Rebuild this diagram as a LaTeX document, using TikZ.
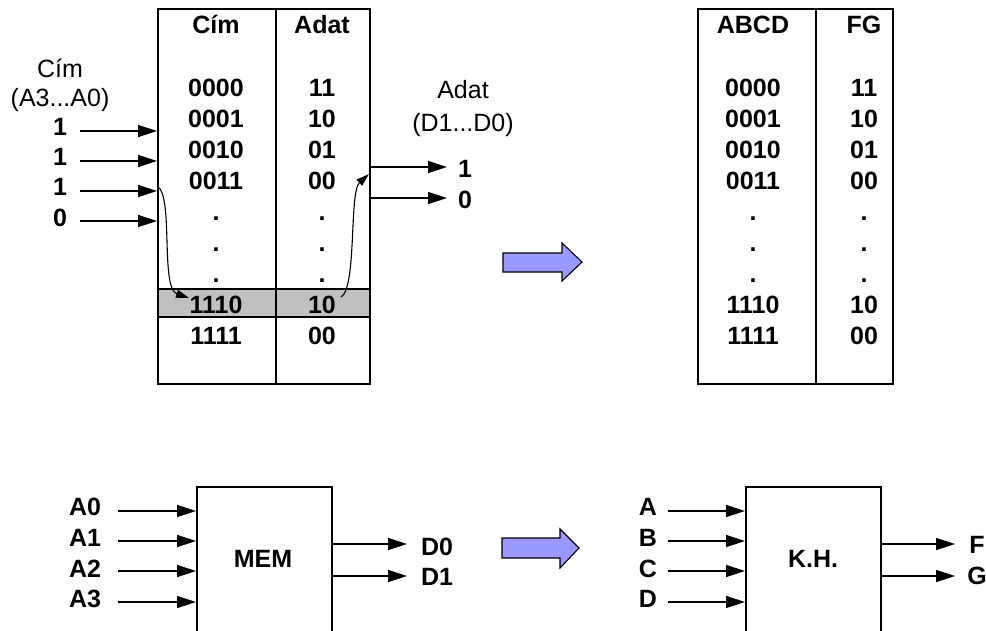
\documentclass[tikz,border=0pt]{standalone}
\usepackage{fontspec}
\setmainfont{Liberation Sans}
\usetikzlibrary{arrows.meta}
\definecolor{rowgray}{HTML}{C0C0C0}
\definecolor{blockblue}{HTML}{9999FF}
\begin{document}
\begin{tikzpicture}[x=1pt,y=-1pt,
  txt/.style={anchor=base, inner sep=0pt, font=\fontsize{25}{30}\selectfont\bfseries},
  rtxt/.style={anchor=base, inner sep=0pt, font=\fontsize{25}{30}\selectfont},
  arr/.style={-{Triangle[length=19pt,width=12pt]}, line width=1.4pt},
  carr/.style={-{Triangle[length=13pt,width=8pt]}, line width=1.1pt},
  col/.style={draw, line width=1.5pt, inner sep=0pt, anchor=north west},
  blockarr/.style={fill=blockblue, draw=black, line width=1.1pt, line join=miter}]
\useasboundingbox (0,0) rectangle (986,630);
\clip (0,0) rectangle (986,630);

% ---------- left table ----------
\fill[rowgray] (157,289) rectangle (369,317);
\node[col, minimum width=118pt, minimum height=375pt] (c1) at (157,8) {};
\node[col, minimum width=94pt, minimum height=375pt] (c2) at (275,8) {};
\draw[line width=1.5pt] (157,289) -- (369,289);
\draw[line width=1.5pt] (157,317) -- (369,317);

\node[txt] (h1) at (216,33) {Cím};
\node[txt] (h2) at (322,33) {Adat};
\node[txt] (a0) at (216,96) {0000};
\node[txt] (a1) at (216,127) {0001};
\node[txt] (a2) at (216,158) {0010};
\node[txt] (a3) at (216,189) {0011};
\node[txt] (ad1) at (216,220) {.};
\node[txt] (ad2) at (216,251) {.};
\node[txt] (ad3) at (216,282) {.};
\node[txt] (a14) at (216,313) {1110};
\node[txt] (a15) at (216,344) {1111};
\node[txt] (v0) at (322,96) {11};
\node[txt] (v1) at (322,127) {10};
\node[txt] (v2) at (322,158) {01};
\node[txt] (v3) at (322,189) {00};
\node[txt] (vd1) at (322,220) {.};
\node[txt] (vd2) at (322,251) {.};
\node[txt] (vd3) at (322,282) {.};
\node[txt] (v14) at (322,313) {10};
\node[txt] (v15) at (322,344) {00};

% address inputs
\node[rtxt] (cimlbl) at (60,77) {Cím};
\node[rtxt] (cimrng) at (60,106) {(A3...A0)};
\node[txt] (i1) at (60,135) {1};
\node[txt] (i2) at (60,165) {1};
\node[txt] (i3) at (60,195) {1};
\node[txt] (i4) at (60,226) {0};
\coordinate (s1) at (80,131);
\coordinate (s2) at (80,161);
\coordinate (s3) at (80,191);
\coordinate (s4) at (80,221);
\draw[arr] (s1) -- (s1 -| c1.west);
\draw[arr] (s2) -- (s2 -| c1.west);
\draw[arr] (s3) -- (s3 -| c1.west);
\draw[arr] (s4) -- (s4 -| c1.west);

% data outputs
\node[rtxt] (adlbl) at (463,98) {Adat};
\node[rtxt] (adrng) at (463,131) {(D1...D0)};
\node[txt] (q1) at (465,177) {1};
\node[txt] (q0) at (465,208) {0};
\coordinate (o1) at (447,167);
\coordinate (o0) at (447,198);
\draw[arr] (o1 -| c2.east) -- (o1);
\draw[arr] (o0 -| c2.east) -- (o0);

% curved lookup arrows
\coordinate (cs) at (157,186);
\coordinate (ce) at (189,298);
\draw[carr] (cs) .. controls (174,195) and (160,288) .. (ce);
\coordinate (ds) at (341,297);
\coordinate (de) at (369,174);
\draw[carr] (ds) .. controls (357,288) and (349,192) .. (de);

% ---------- block arrows ----------
\filldraw[blockarr] (503,253) -- (562,253) -- (562,243) -- (582,262) -- (562,281) -- (562,272) -- (503,272) -- cycle;
\filldraw[blockarr] (502,538) -- (560,538) -- (560,529) -- (579,548) -- (560,568) -- (560,558) -- (502,558) -- cycle;

% ---------- right table ----------
\node[col, minimum width=118pt, minimum height=375pt] (d1) at (697,8) {};
\node[col, minimum width=77pt, minimum height=375pt] (d2) at (815,8) {};
\node[txt] (g1) at (753,33) {ABCD};
\node[txt] (g2) at (864,33) {FG};
\node[txt] (b0) at (753,96) {0000};
\node[txt] (b1) at (753,127) {0001};
\node[txt] (b2) at (753,158) {0010};
\node[txt] (b3) at (753,189) {0011};
\node[txt] (bd1) at (753,220) {.};
\node[txt] (bd2) at (753,251) {.};
\node[txt] (bd3) at (753,282) {.};
\node[txt] (b14) at (753,313) {1110};
\node[txt] (b15) at (753,344) {1111};
\node[txt] (f0) at (864,96) {11};
\node[txt] (f1) at (864,127) {10};
\node[txt] (f2) at (864,158) {01};
\node[txt] (f3) at (864,189) {00};
\node[txt] (fd1) at (864,220) {.};
\node[txt] (fd2) at (864,251) {.};
\node[txt] (fd3) at (864,282) {.};
\node[txt] (f14) at (864,313) {10};
\node[txt] (f15) at (864,344) {00};

% ---------- MEM block ----------
\node[col, minimum width=135pt, minimum height=180pt] (mem) at (196,486) {};
\node[txt] (memt) at (263,567) {MEM};
\node[txt] (ma0) at (85,515) {A0};
\node[txt] (ma1) at (85,546) {A1};
\node[txt] (ma2) at (85,577) {A2};
\node[txt] (ma3) at (85,607) {A3};
\coordinate (m0) at (118,511);
\coordinate (m1) at (118,541);
\coordinate (m2) at (118,571);
\coordinate (m3) at (118,602);
\draw[arr] (m0) -- (m0 -| mem.west);
\draw[arr] (m1) -- (m1 -| mem.west);
\draw[arr] (m2) -- (m2 -| mem.west);
\draw[arr] (m3) -- (m3 -| mem.west);
\node[txt] (md0) at (437,555) {D0};
\node[txt] (md1) at (437,585) {D1};
\coordinate (n0) at (407,544);
\coordinate (n1) at (407,576);
\draw[arr] (n0 -| mem.east) -- (n0);
\draw[arr] (n1 -| mem.east) -- (n1);

% ---------- K.H. block ----------
\node[col, minimum width=135pt, minimum height=180pt] (kh) at (745,486) {};
\node[txt] (kht) at (813,567) {K.H.};
\node[txt] (ka) at (648,515) {A};
\node[txt] (kb) at (648,546) {B};
\node[txt] (kc) at (648,577) {C};
\node[txt] (kd) at (648,607) {D};
\coordinate (k0) at (668,511);
\coordinate (k1) at (668,541);
\coordinate (k2) at (668,571);
\coordinate (k3) at (668,602);
\draw[arr] (k0) -- (k0 -| kh.west);
\draw[arr] (k1) -- (k1 -| kh.west);
\draw[arr] (k2) -- (k2 -| kh.west);
\draw[arr] (k3) -- (k3 -| kh.west);
\node[txt] (kf) at (977,553) {F};
\node[txt] (kg) at (977,584) {G};
\coordinate (p0) at (955,544);
\coordinate (p1) at (955,576);
\draw[arr] (p0 -| kh.east) -- (p0);
\draw[arr] (p1 -| kh.east) -- (p1);
\end{tikzpicture}
\end{document}
